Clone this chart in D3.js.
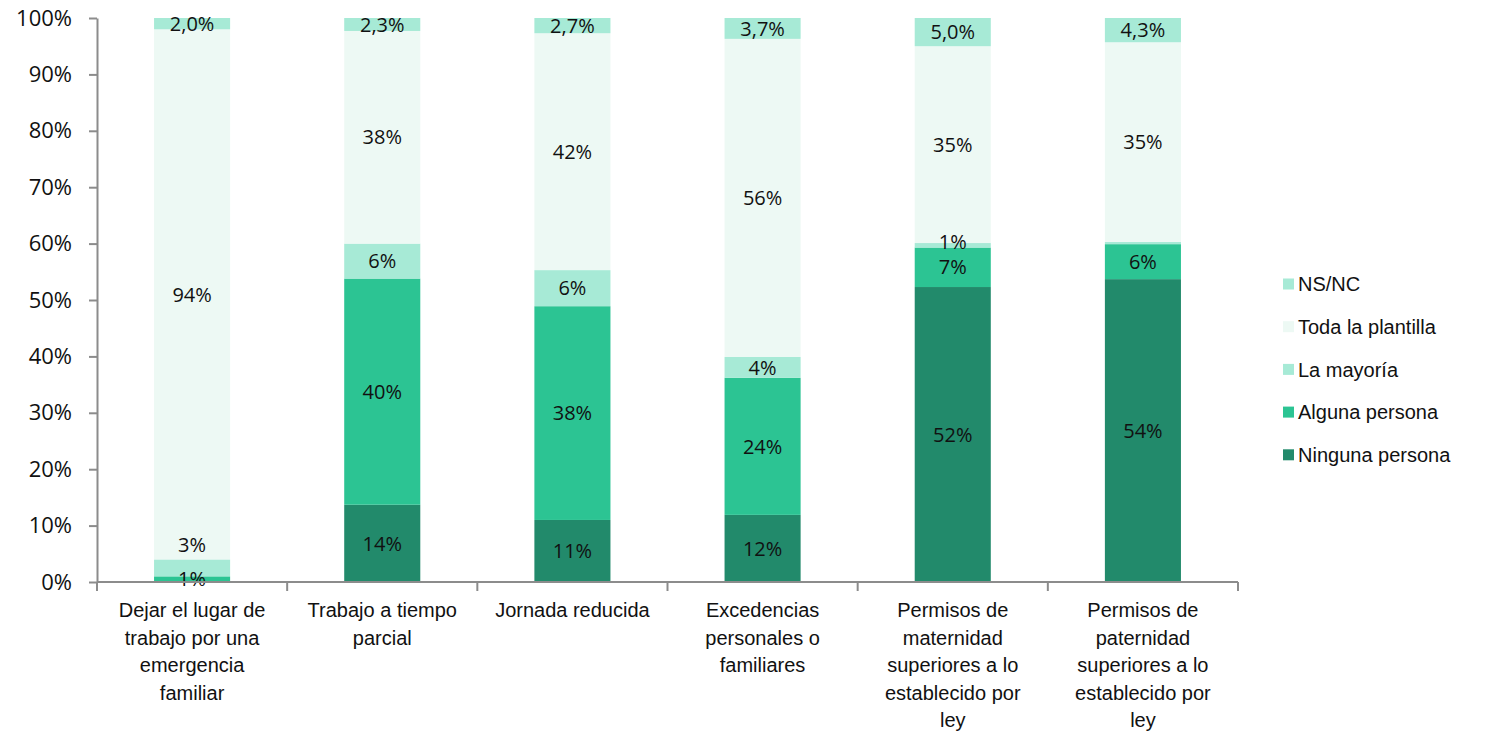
<!DOCTYPE html>
<html>
<head>
<meta charset="utf-8">
<script src="https://cdn.jsdelivr.net/npm/d3@7"></script>
<style>
  body { margin: 0; background: #fff; }
  svg { display: block; }
</style>
</head>
<body>
<svg id="chart" width="1489" height="732"></svg>
<script>
// categories, one line per array entry (as wrapped in the picture)
const categories = [
  ["Dejar el lugar de", "trabajo por una", "emergencia", "familiar"],
  ["Trabajo a tiempo", "parcial"],
  ["Jornada reducida"],
  ["Excedencias", "personales o", "familiares"],
  ["Permisos de", "maternidad", "superiores a lo", "establecido por", "ley"],
  ["Permisos de", "paternidad", "superiores a lo", "establecido por", "ley"]
];

const seriesNames = ["Ninguna persona", "Alguna persona", "La mayoría", "Toda la plantilla", "NS/NC"];

// values in %, per series, one per category
const ninguna = [0, 13.7, 11.0, 11.9, 52.3, 53.7];
const alguna  = [1.0, 40.1, 37.9, 24.3, 7.0, 6.2];
const mayoria = [3.0, 6.2, 6.4, 3.7, 0.8, 0.4];
const toda    = [94.0, 37.7, 42.0, 56.4, 34.9, 35.4];
const nsnc    = [2.0, 2.3, 2.7, 3.7, 5.0, 4.3];

const yTicks = [0, 10, 20, 30, 40, 50, 60, 70, 80, 90, 100];

const colors = ["#228a6b", "#2cc493", "#a7ead6", "#edf9f4", "#a7ead6"];

const seriesValues = [ninguna, alguna, mayoria, toda, nsnc];

const rows = categories.map((c, i) => {
  const r = { key: i };
  seriesNames.forEach((s, j) => r[s] = seriesValues[j][i]);
  return r;
});

const svg = d3.select("#chart");
const margin = { left: 97, right: 251, top: 18, bottom: 150 };
const W = 1489, H = 732;

const x = d3.scaleBand()
  .domain(d3.range(categories.length))
  .range([margin.left, W - margin.right])
  .paddingInner(0.6)
  .paddingOuter(0.3);

const y = d3.scaleLinear().domain([0, 100]).range([H - margin.bottom, margin.top]);

const stack = d3.stack().keys(seriesNames)(rows);

const axisColor = "#8c8c8c";

// bars
const g = svg.append("g");
stack.forEach((layer, j) => {
  g.selectAll(null)
    .data(layer)
    .join("rect")
    .attr("x", (d, i) => x(i))
    .attr("width", x.bandwidth())
    .attr("y", d => y(d[1]))
    .attr("height", d => y(d[0]) - y(d[1]))
    .attr("fill", colors[j]);
});

// value labels; labels crowding the one below get nudged up
const lastY = categories.map(() => Infinity);
stack.forEach((layer, j) => {
  const isNs = seriesNames[j] === "NS/NC";
  layer.forEach((d, i) => {
    const v = d[1] - d[0];
    if (Math.round(v) <= 0) return;
    let ly = (y(d[0]) + y(d[1])) / 2;
    if (lastY[i] - ly < 20) ly = y(d[1]) - 15;
    else if (lastY[i] - ly < 25) ly = lastY[i] - 25;
    lastY[i] = ly;
    g.append("text")
      .attr("x", x(i) + x.bandwidth() / 2)
      .attr("y", ly)
      .attr("dy", "0.36em")
      .attr("text-anchor", "middle")
      .attr("font-family", "'Open Sans', sans-serif")
      .attr("font-size", 20)
      .attr("fill", "#111")
      .text(isNs ? v.toFixed(1).replace(".", ",") + "%" : Math.round(v) + "%");
  });
});

// y axis
const yAxis = svg.append("g")
  .attr("transform", `translate(${margin.left},0)`)
  .call(d3.axisLeft(y).tickValues(yTicks).tickFormat(d => d + "%").tickSize(8).tickSizeOuter(0));
yAxis.select(".domain").attr("stroke", axisColor).attr("stroke-width", 2);
yAxis.selectAll(".tick line").attr("stroke", axisColor).attr("stroke-width", 2);
yAxis.selectAll(".tick text")
  .attr("x", -25)
  .attr("font-family", "'Open Sans', sans-serif")
  .attr("font-size", 22)
  .attr("fill", "#111");

// x axis baseline and boundary ticks
const x0 = y(0);
const start = x.range()[0];
const bandStep = (x.range()[1] - start) / categories.length;
svg.append("line")
  .attr("x1", start).attr("x2", x.range()[1])
  .attr("y1", x0).attr("y2", x0)
  .attr("stroke", axisColor).attr("stroke-width", 2);
svg.selectAll(null)
  .data(d3.range(categories.length + 1))
  .join("line")
  .attr("x1", i => start + i * bandStep)
  .attr("x2", i => start + i * bandStep)
  .attr("y1", x0).attr("y2", x0 + 9)
  .attr("stroke", axisColor).attr("stroke-width", 2);

// category labels
const catG = svg.append("g");
categories.forEach((lines, i) => {
  const t = catG.append("text")
    .attr("text-anchor", "middle")
    .attr("font-family", "'Liberation Sans', Arial, sans-serif")
    .attr("font-size", 20)
    .attr("fill", "#111");
  lines.forEach((ln, k) => {
    t.append("tspan")
      .attr("x", x(i) + x.bandwidth() / 2)
      .attr("y", 617 + k * 27.5)
      .text(ln);
  });
});

// legend (reverse order)
const legend = svg.append("g").attr("transform", "translate(1283,0)");
const legendItems = seriesNames.map((s, j) => ({ s, c: colors[j] })).reverse();
legendItems.forEach((d, k) => {
  const cy = 284 + k * 42.7;
  legend.append("rect")
    .attr("x", 0).attr("y", cy - 5.5)
    .attr("width", 11).attr("height", 11)
    .attr("fill", d.c);
  legend.append("text")
    .attr("x", 15).attr("y", cy)
    .attr("dy", "0.36em")
    .attr("font-family", "'Liberation Sans', Arial, sans-serif")
    .attr("font-size", 20)
    .attr("fill", "#111")
    .text(d.s);
});
</script>
</body>
</html>
